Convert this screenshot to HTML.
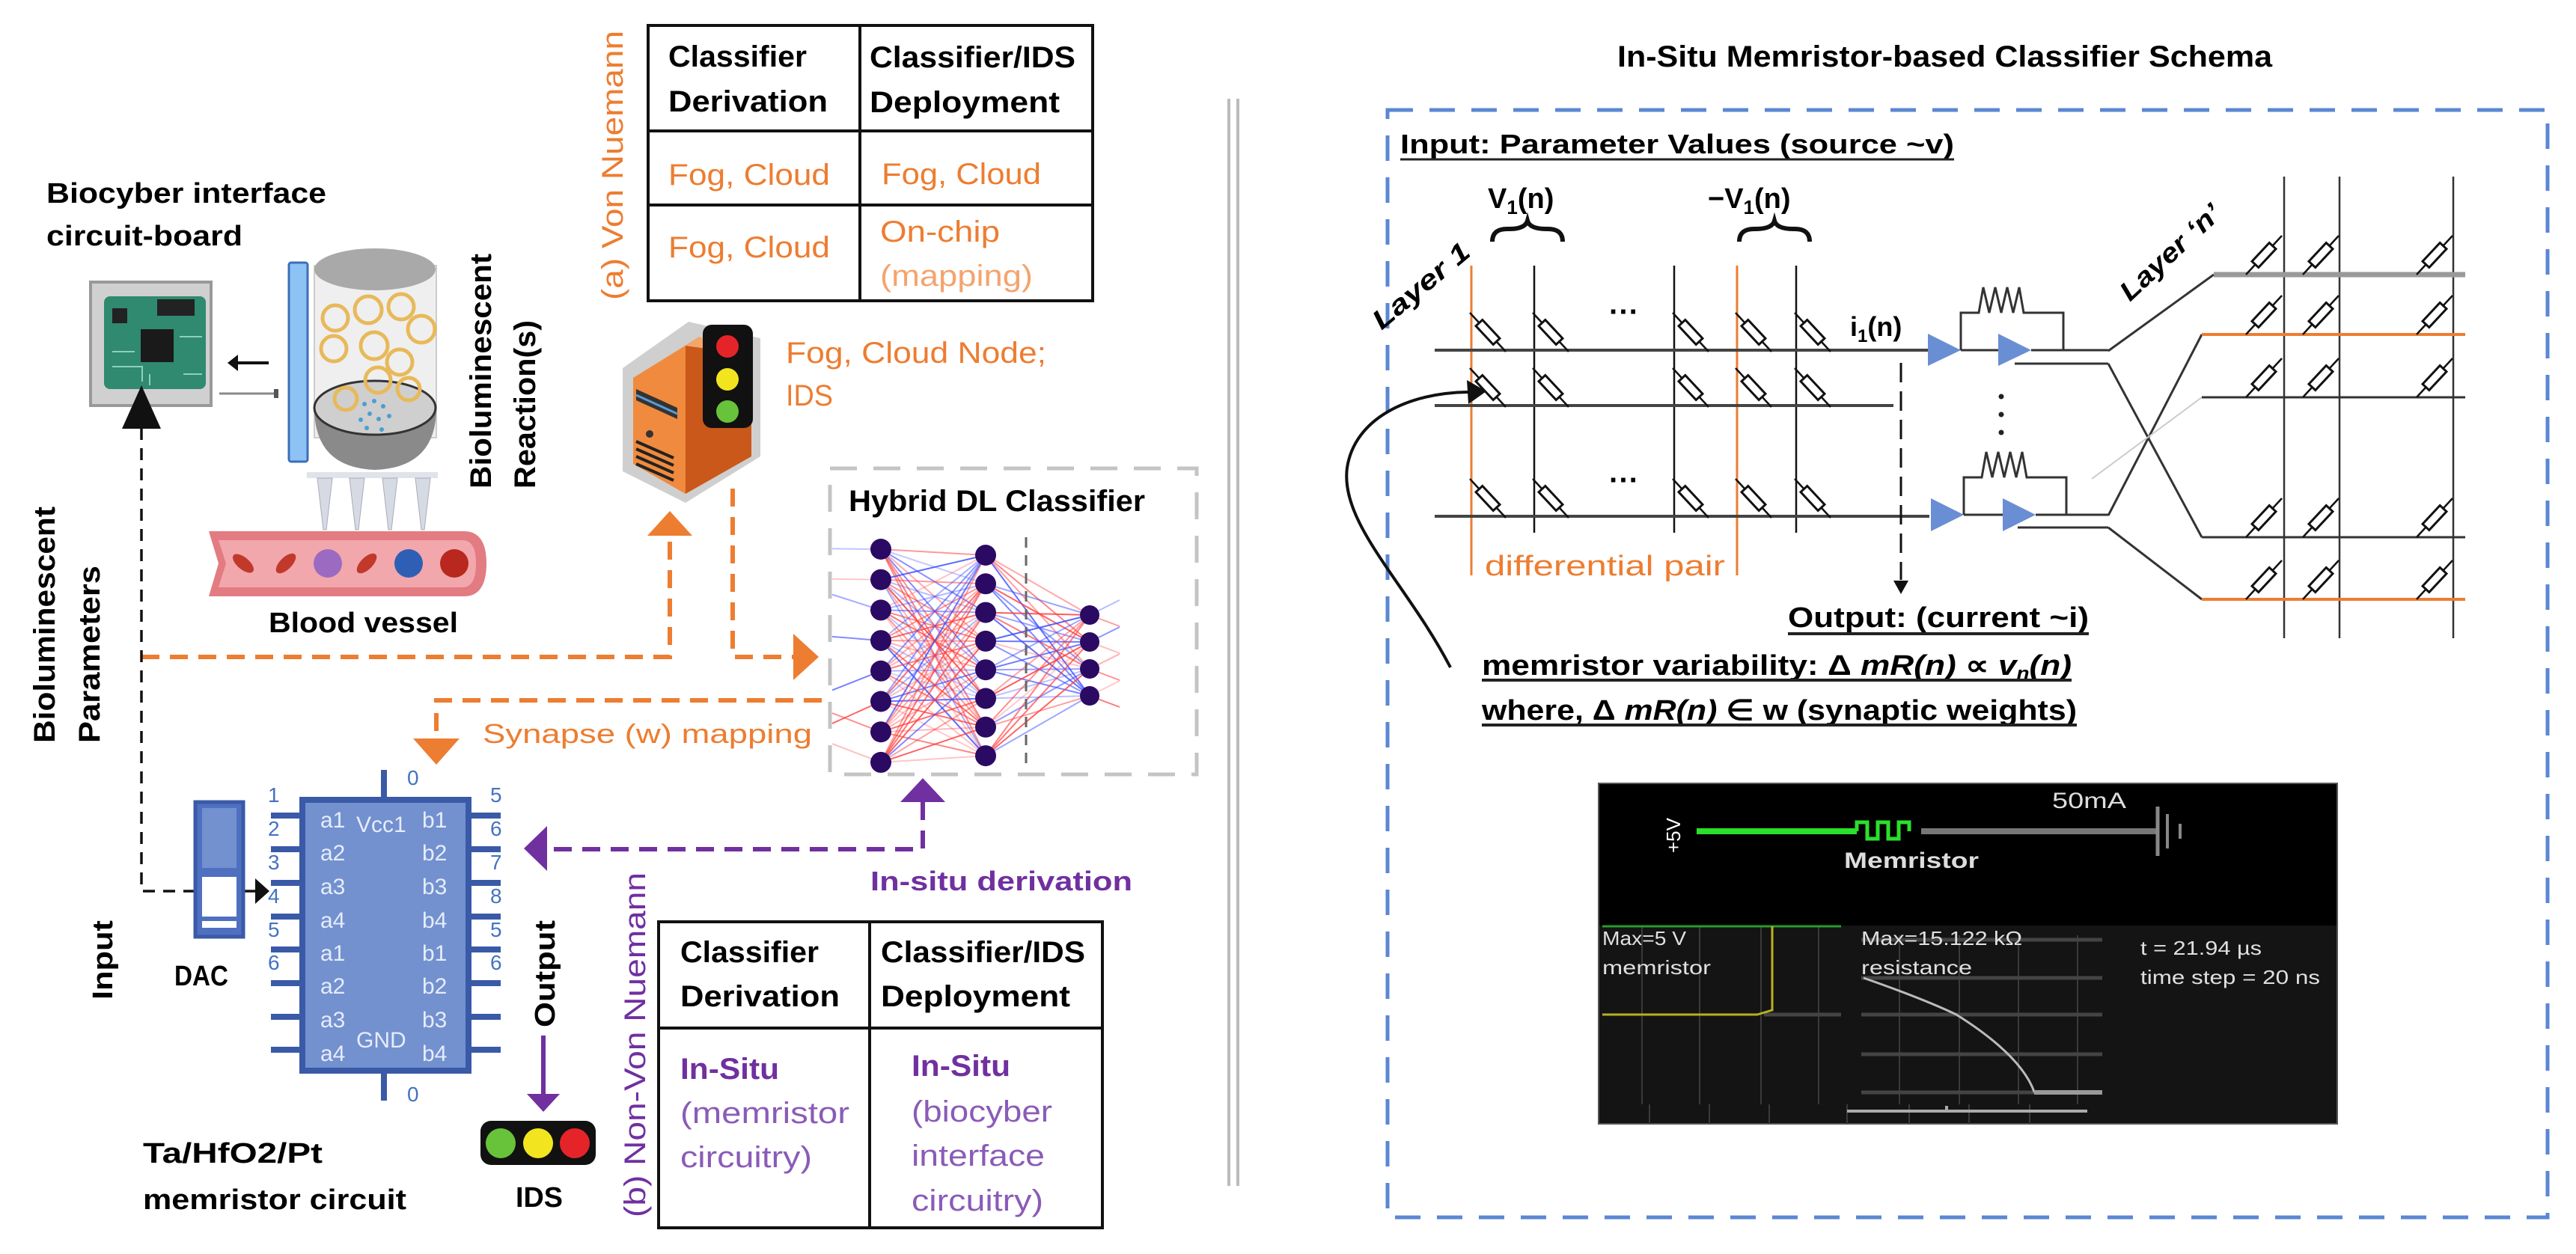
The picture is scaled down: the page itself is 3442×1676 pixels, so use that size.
<!DOCTYPE html>
<html><head><meta charset="utf-8"><style>
html,body{margin:0;padding:0;background:#fff}
svg{display:block}
text{font-family:"Liberation Sans",sans-serif}
</style></head><body>
<svg id="s" width="3442" height="1676" viewBox="0 0 3442 1676" xmlns="http://www.w3.org/2000/svg">
<defs>
<g id="ml"><line x1="-24" y1="-26" x2="24" y2="26" stroke="#111" stroke-width="2.5"/><rect x="-6" y="-17" width="12" height="34" fill="#fff" stroke="#111" stroke-width="3" transform="rotate(-43)"/></g>
<g id="mr"><line x1="24" y1="-26" x2="-24" y2="26" stroke="#111" stroke-width="2.5"/><rect x="-6" y="-17" width="12" height="34" fill="#fff" stroke="#111" stroke-width="3" transform="rotate(43)"/></g>
</defs>
<rect width="3442" height="1676" fill="#fff"/>

<!-- ===== LEFT PANEL ===== -->
<text x="62" y="271" font-size="38" font-weight="bold" textLength="374" lengthAdjust="spacingAndGlyphs">Biocyber interface</text>
<text x="62" y="328" font-size="38" font-weight="bold" textLength="262" lengthAdjust="spacingAndGlyphs">circuit-board</text>

<!-- circuit board -->
<rect x="121" y="377" width="161" height="165" fill="#d0d0d0" stroke="#999" stroke-width="4"/>
<rect x="139" y="396" width="136" height="124" rx="8" fill="#2f8a6f"/>
<rect x="210" y="400" width="50" height="22" fill="#222"/>
<rect x="150" y="412" width="20" height="20" fill="#222"/>
<rect x="188" y="440" width="44" height="44" fill="#1a1a1a"/>
<path d="M150 470 h30 M150 490 h40 v20 M240 450 h30 M245 500 h25 M200 500 v15" stroke="#8fd0b8" stroke-width="2" fill="none"/>
<!-- arrows -->
<line x1="315" y1="485" x2="359" y2="485" stroke="#111" stroke-width="4"/>
<polygon points="304,485 318,474 318,496" fill="#111"/>
<line x1="293" y1="526" x2="368" y2="526" stroke="#888" stroke-width="3"/>
<rect x="366" y="520" width="6" height="12" fill="#555"/>
<!-- blue bar -->
<rect x="386" y="351" width="25" height="266" rx="3" fill="#8ec2f5" stroke="#3b6fb8" stroke-width="3"/>
<!-- cylinder -->
<rect x="420" y="355" width="163" height="230" fill="#efefef" stroke="#ccc" stroke-width="2"/>
<ellipse cx="501" cy="360" rx="81" ry="28" fill="#a9a9a9"/>
<path d="M420 545 Q420 625 501 628 Q583 625 583 545 Z" fill="#8a8a8a"/>
<ellipse cx="501" cy="545" rx="81" ry="36" fill="#cfcfcf" stroke="#333" stroke-width="3"/>
<g fill="none" stroke="#e8b95a" stroke-width="5">
<circle cx="448" cy="425" r="17"/><circle cx="492" cy="414" r="18"/><circle cx="536" cy="410" r="17"/>
<circle cx="446" cy="466" r="17"/><circle cx="500" cy="462" r="18"/><circle cx="563" cy="440" r="18"/>
<circle cx="534" cy="484" r="17"/><circle cx="505" cy="508" r="17"/><circle cx="462" cy="533" r="15"/><circle cx="546" cy="520" r="15"/>
</g>
<g fill="#4a9fcf"><circle cx="487" cy="540" r="3"/><circle cx="500" cy="536" r="3"/><circle cx="512" cy="543" r="3"/><circle cx="494" cy="553" r="3"/><circle cx="506" cy="560" r="3"/><circle cx="520" cy="556" r="3"/><circle cx="482" cy="561" r="3"/><circle cx="490" cy="572" r="3"/><circle cx="510" cy="574" r="3"/></g>
<!-- probes -->
<rect x="410" y="631" width="175" height="8" fill="#dfe3ea"/>
<g fill="#d6dbe3" stroke="#aab" stroke-width="1">
<polygon points="424,639 444,639 436,708 432,708"/><polygon points="467,639 487,639 479,708 475,708"/>
<polygon points="511,639 531,639 523,708 519,708"/><polygon points="555,639 575,639 567,708 563,708"/>
</g>
<!-- blood vessel -->
<path d="M279 710 H620 Q650 710 650 753 Q650 797 620 797 H279 L292 753 Z" fill="#e27c82"/>
<path d="M292 722 H618 Q636 722 636 753 Q636 785 618 785 H292 L302 753 Z" fill="#f2a7ac"/>
<ellipse cx="325" cy="753" rx="17" ry="8" transform="rotate(40 325 753)" fill="#c0392b"/>
<ellipse cx="382" cy="753" rx="17" ry="8" transform="rotate(-45 382 753)" fill="#c0392b"/>
<circle cx="438" cy="753" r="19" fill="#9b6bc2"/>
<ellipse cx="490" cy="753" rx="17" ry="8" transform="rotate(-45 490 753)" fill="#c0392b"/>
<circle cx="546" cy="753" r="19" fill="#2f5fb5"/>
<circle cx="607" cy="753" r="19" fill="#b8281e"/>
<text x="359" y="845" font-size="38" font-weight="bold" textLength="253" lengthAdjust="spacingAndGlyphs">Blood vessel</text>

<text transform="translate(656,653) rotate(-90)" font-size="40" font-weight="bold" textLength="314" lengthAdjust="spacingAndGlyphs">Bioluminescent</text>
<text transform="translate(715,653) rotate(-90)" font-size="40" font-weight="bold" textLength="225" lengthAdjust="spacingAndGlyphs">Reaction(s)</text>

<text transform="translate(73,993) rotate(-90)" font-size="40" font-weight="bold" textLength="316" lengthAdjust="spacingAndGlyphs">Bioluminescent</text>
<text transform="translate(133,993) rotate(-90)" font-size="40" font-weight="bold" textLength="237" lengthAdjust="spacingAndGlyphs">Parameters</text>

<text transform="translate(832,401) rotate(-90)" font-size="40" fill="#ED7D31" textLength="360" lengthAdjust="spacingAndGlyphs">(a) Von Nuemann</text>

<!-- Table a -->
<g stroke="#111" stroke-width="4" fill="none">
<rect x="866" y="34" width="594" height="368"/>
<line x1="1149" y1="34" x2="1149" y2="402"/>
<line x1="866" y1="175" x2="1460" y2="175"/>
<line x1="866" y1="274" x2="1460" y2="274"/>
</g>
<g font-size="40" font-weight="bold">
<text x="893" y="89" textLength="185" lengthAdjust="spacingAndGlyphs">Classifier</text>
<text x="893" y="149" textLength="213" lengthAdjust="spacingAndGlyphs">Derivation</text>
<text x="1162" y="90" textLength="275" lengthAdjust="spacingAndGlyphs">Classifier/IDS</text>
<text x="1162" y="150" textLength="254" lengthAdjust="spacingAndGlyphs">Deployment</text>
</g>
<g font-size="40" fill="#ED7D31">
<text x="893" y="247" textLength="216" lengthAdjust="spacingAndGlyphs">Fog, Cloud</text>
<text x="893" y="344" textLength="216" lengthAdjust="spacingAndGlyphs">Fog, Cloud</text>
<text x="1178" y="246" textLength="213" lengthAdjust="spacingAndGlyphs">Fog, Cloud</text>
<text x="1176" y="323" textLength="160" lengthAdjust="spacingAndGlyphs">On-chip</text>
<text x="1176" y="382" textLength="204" lengthAdjust="spacingAndGlyphs" fill="#F4A46E">(mapping)</text>
</g>

<!-- server -->
<polygon points="832,492 920,430 1016,452 1016,610 916,672 832,630" fill="#cfcfcf"/>
<polygon points="846,505 916,462 916,660 846,620" fill="#F08A3E"/>
<polygon points="916,462 1004,474 1004,610 916,660" fill="#C9581A"/>
<polygon points="846,505 934,450 1004,474 916,462" fill="#f4a56a"/>
<g stroke="#222" stroke-width="4"><line x1="850" y1="620" x2="900" y2="642"/><line x1="850" y1="610" x2="900" y2="632"/><line x1="850" y1="600" x2="900" y2="622"/><line x1="850" y1="590" x2="900" y2="612"/></g>
<path d="M850 520 L905 545 L905 560 L850 535 Z" fill="#333"/>
<path d="M850 528 L905 553" stroke="#5a9ad6" stroke-width="3"/>
<circle cx="868" cy="580" r="5" fill="#333"/>
<rect x="939" y="434" width="67" height="138" rx="12" fill="#111"/>
<circle cx="972" cy="463" r="15" fill="#e5242a"/>
<circle cx="972" cy="507" r="15" fill="#f2e51f"/>
<circle cx="972" cy="550" r="15" fill="#68c23a"/>
<text x="1050" y="485" font-size="40" fill="#ED7D31" textLength="348" lengthAdjust="spacingAndGlyphs">Fog, Cloud Node;</text>
<text x="1050" y="542" font-size="40" fill="#ED7D31" textLength="63" lengthAdjust="spacingAndGlyphs">IDS</text>

<!-- orange dashed arrows -->
<g stroke="#ED7D31" stroke-width="6" fill="none" stroke-dasharray="24 14">
<path d="M189 878 H895 V715"/>
<path d="M979 653 V878 H1062"/>
<path d="M1098 936 H583 V988"/>
</g>
<g fill="#ED7D31">
<polygon points="895,683 865,716 925,716"/>
<polygon points="1094,878 1060,847 1060,909"/>
<polygon points="583,1022 552,987 614,987"/>
</g>
<text x="645" y="993" font-size="36" fill="#ED7D31" textLength="440" lengthAdjust="spacingAndGlyphs">Synapse (w) mapping</text>

<!-- black dashed input arrow -->
<g stroke="#111" stroke-width="3.5" fill="none" stroke-dasharray="16 11">
<path d="M189 572 V1191 H343"/>
</g>
<polygon points="189,515 163,573 215,573" fill="#111"/>
<polygon points="360,1191 341,1174 341,1208" fill="#111"/>

<!-- Hybrid DL classifier -->
<rect x="1109" y="626" width="490" height="409" fill="none" stroke="#c4c4c4" stroke-width="5" stroke-dasharray="36 22"/>
<text x="1134" y="683" font-size="40" font-weight="bold" textLength="396" lengthAdjust="spacingAndGlyphs">Hybrid DL Classifier</text>
<g id="nnl" stroke-width="2"></g>
<line x1="1371" y1="718" x2="1371" y2="1022" stroke="#666" stroke-width="3" stroke-dasharray="14 10"/>
<g id="nnn" fill="#2b0a63"></g>

<!-- purple -->
<g stroke="#7030A0" stroke-width="6" fill="none" stroke-dasharray="24 14">
<path d="M1233 1072 V1135 H732"/>
</g>
<polygon points="1233,1040 1203,1072 1263,1072" fill="#7030A0"/>
<polygon points="700,1134 731,1104 731,1164" fill="#7030A0"/>
<text x="1163" y="1190" font-size="36" font-weight="bold" fill="#7030A0" textLength="350" lengthAdjust="spacingAndGlyphs">In-situ derivation</text>

<!-- chip -->
<g stroke="#3a5aa8" stroke-width="8">
<line x1="513" y1="1029" x2="513" y2="1070"/><line x1="513" y1="1430" x2="513" y2="1471"/>
<g id="pinsL">
<line x1="362" y1="1090" x2="404" y2="1090"/><line x1="362" y1="1135" x2="404" y2="1135"/>
<line x1="362" y1="1180" x2="404" y2="1180"/><line x1="362" y1="1225" x2="404" y2="1225"/>
<line x1="362" y1="1269" x2="404" y2="1269"/><line x1="362" y1="1314" x2="404" y2="1314"/>
<line x1="362" y1="1359" x2="404" y2="1359"/><line x1="362" y1="1403" x2="404" y2="1403"/>
</g>
<use href="#pinsL" x="265"/>
</g>
<rect x="404" y="1069" width="222" height="362" fill="#7391cf" stroke="#3a5aa8" stroke-width="8"/>
<g font-size="30" fill="#e6ecfa">
<text x="428" y="1106">a1</text><text x="428" y="1150">a2</text><text x="428" y="1195">a3</text><text x="428" y="1240">a4</text>
<text x="428" y="1284">a1</text><text x="428" y="1328">a2</text><text x="428" y="1373">a3</text><text x="428" y="1418">a4</text>
<text x="564" y="1106">b1</text><text x="564" y="1150">b2</text><text x="564" y="1195">b3</text><text x="564" y="1240">b4</text>
<text x="564" y="1284">b1</text><text x="564" y="1328">b2</text><text x="564" y="1373">b3</text><text x="564" y="1418">b4</text>
<text x="476" y="1112">Vcc1</text><text x="476" y="1400">GND</text>
</g>
<g font-size="28" fill="#4472C4">
<text x="544" y="1049">0</text><text x="544" y="1472">0</text>
<text x="358" y="1072">1</text><text x="358" y="1117">2</text><text x="358" y="1162">3</text><text x="358" y="1207">4</text><text x="358" y="1252">5</text><text x="358" y="1296">6</text>
<text x="655" y="1072">5</text><text x="655" y="1117">6</text><text x="655" y="1162">7</text><text x="655" y="1207">8</text><text x="655" y="1252">5</text><text x="655" y="1296">6</text>
</g>
<!-- DAC -->
<rect x="261" y="1072" width="64" height="180" fill="#4f70c0" stroke="#3a5aa8" stroke-width="5"/>
<rect x="270" y="1080" width="46" height="80" fill="#7391cf"/>
<rect x="270" y="1172" width="46" height="53" fill="#fff"/>
<rect x="270" y="1231" width="46" height="9" fill="#fff"/>
<text x="233" y="1317" font-size="38" font-weight="bold" textLength="72" lengthAdjust="spacingAndGlyphs">DAC</text>
<text transform="translate(150,1336) rotate(-90)" font-size="38" font-weight="bold" textLength="106" lengthAdjust="spacingAndGlyphs">Input</text>
<text transform="translate(741,1373) rotate(-90)" font-size="38" font-weight="bold" textLength="143" lengthAdjust="spacingAndGlyphs">Output</text>
<line x1="726" y1="1384" x2="726" y2="1464" stroke="#7030A0" stroke-width="6"/>
<polygon points="726,1486 704,1462 748,1462" fill="#7030A0"/>
<rect x="642" y="1498" width="154" height="59" rx="14" fill="#111"/>
<circle cx="669" cy="1528" r="20" fill="#68c23a"/><circle cx="719" cy="1528" r="20" fill="#f2e51f"/><circle cx="768" cy="1528" r="20" fill="#e5242a"/>
<text x="689" y="1613" font-size="38" font-weight="bold" textLength="63" lengthAdjust="spacingAndGlyphs">IDS</text>
<text x="191" y="1554" font-size="38" font-weight="bold" textLength="240" lengthAdjust="spacingAndGlyphs">Ta/HfO2/Pt</text>
<text x="191" y="1616" font-size="38" font-weight="bold" textLength="352" lengthAdjust="spacingAndGlyphs">memristor circuit</text>

<text transform="translate(862,1627) rotate(-90)" font-size="40" fill="#7030A0" textLength="461" lengthAdjust="spacingAndGlyphs">(b) Non-Von Nuemann</text>

<!-- Table b -->
<g stroke="#111" stroke-width="4" fill="none">
<rect x="880" y="1232" width="593" height="409"/>
<line x1="1162" y1="1232" x2="1162" y2="1641"/>
<line x1="880" y1="1374" x2="1473" y2="1374"/>
</g>
<g font-size="40" font-weight="bold">
<text x="909" y="1286" textLength="185" lengthAdjust="spacingAndGlyphs">Classifier</text>
<text x="909" y="1345" textLength="213" lengthAdjust="spacingAndGlyphs">Derivation</text>
<text x="1177" y="1286" textLength="273" lengthAdjust="spacingAndGlyphs">Classifier/IDS</text>
<text x="1177" y="1345" textLength="253" lengthAdjust="spacingAndGlyphs">Deployment</text>
</g>
<g font-size="40" fill="#7030A0">
<text x="909" y="1442" font-weight="bold" textLength="132" lengthAdjust="spacingAndGlyphs">In-Situ</text>
<text x="909" y="1501" fill="#8a5bb8" textLength="226" lengthAdjust="spacingAndGlyphs">(memristor</text>
<text x="909" y="1560" fill="#8a5bb8" textLength="176" lengthAdjust="spacingAndGlyphs">circuitry)</text>
<text x="1218" y="1438" font-weight="bold" textLength="132" lengthAdjust="spacingAndGlyphs">In-Situ</text>
<text x="1218" y="1499" fill="#8a5bb8" textLength="188" lengthAdjust="spacingAndGlyphs">(biocyber</text>
<text x="1218" y="1558" fill="#8a5bb8" textLength="178" lengthAdjust="spacingAndGlyphs">interface</text>
<text x="1218" y="1618" fill="#8a5bb8" textLength="176" lengthAdjust="spacingAndGlyphs">circuitry)</text>
</g>

<!-- divider -->
<line x1="1642" y1="132" x2="1642" y2="1585" stroke="#bbb" stroke-width="4"/>
<line x1="1654" y1="132" x2="1654" y2="1585" stroke="#bbb" stroke-width="4"/>

<!-- ===== RIGHT PANEL ===== -->
<text x="2161" y="89" font-size="40" font-weight="bold" textLength="875" lengthAdjust="spacingAndGlyphs">In-Situ Memristor-based Classifier Schema</text>
<rect x="1854" y="147" width="1550" height="1480" fill="none" stroke="#5b87d2" stroke-width="5" stroke-dasharray="34 22"/>
<text x="1871" y="205" font-size="36" font-weight="bold" textLength="740" lengthAdjust="spacingAndGlyphs">Input: Parameter Values (source ~v)</text>
<line x1="1871" y1="213" x2="2611" y2="213" stroke="#222" stroke-width="3"/>
<text x="1988" y="278" font-size="38" font-weight="bold">V<tspan font-size="26" dy="8">1</tspan><tspan dy="-8">(n)</tspan></text>
<text x="2282" y="278" font-size="38" font-weight="bold">−V<tspan font-size="26" dy="8">1</tspan><tspan dy="-8">(n)</tspan></text>
<path d="M1994 323 Q1994 305 2016 306 Q2038 306 2041 295 Q2044 306 2066 306 Q2088 305 2088 323" fill="none" stroke="#111" stroke-width="6"/>
<path d="M2324 323 Q2324 305 2346 306 Q2368 306 2371 295 Q2374 306 2396 306 Q2418 305 2418 323" fill="none" stroke="#111" stroke-width="6"/>
<text transform="translate(1846,442) rotate(-40)" font-size="36" font-weight="bold" font-style="italic" textLength="158" lengthAdjust="spacingAndGlyphs">Layer 1</text>
<text transform="translate(2846,404) rotate(-43)" font-size="36" font-weight="bold" font-style="italic" textLength="170" lengthAdjust="spacingAndGlyphs">Layer ‘n’</text>

<!-- left crossbar -->
<g stroke="#111" stroke-width="2.5">
<line x1="2050" y1="355" x2="2050" y2="712"/><line x1="2237" y1="355" x2="2237" y2="712"/><line x1="2400" y1="355" x2="2400" y2="712"/>
</g>
<g stroke="#ED7D31" stroke-width="3"><line x1="1966" y1="355" x2="1966" y2="769"/><line x1="2321" y1="355" x2="2321" y2="769"/></g>
<g stroke="#444" stroke-width="4">
<line x1="1917" y1="468" x2="2576" y2="468"/><line x1="1917" y1="542" x2="2530" y2="542"/><line x1="1917" y1="690" x2="2578" y2="690"/>
</g>
<g>
<use href="#ml" x="1988" y="444"/><use href="#ml" x="2072" y="444"/><use href="#ml" x="2259" y="444"/><use href="#ml" x="2343" y="444"/><use href="#ml" x="2422" y="444"/>
<use href="#ml" x="1988" y="518"/><use href="#ml" x="2072" y="518"/><use href="#ml" x="2259" y="518"/><use href="#ml" x="2343" y="518"/><use href="#ml" x="2422" y="518"/>
<use href="#ml" x="1988" y="666"/><use href="#ml" x="2072" y="666"/><use href="#ml" x="2259" y="666"/><use href="#ml" x="2343" y="666"/><use href="#ml" x="2422" y="666"/>
</g>
<text x="2150" y="430" font-size="40" font-weight="bold">···</text>
<text x="2150" y="655" font-size="40" font-weight="bold">···</text>
<text x="2472" y="449" font-size="36" font-weight="bold">i<tspan font-size="24" dy="8">1</tspan><tspan dy="-8">(n)</tspan></text>
<line x1="2540" y1="485" x2="2540" y2="775" stroke="#111" stroke-width="3" stroke-dasharray="26 12"/>
<polygon points="2540,794 2530,776 2550,776" fill="#111"/>
<text x="1984" y="769" font-size="38" fill="#ED7D31" textLength="321" lengthAdjust="spacingAndGlyphs">differential pair</text>
<!-- amps -->
<g fill="#6a8ed3"><polygon points="2576,446 2576,489 2620,468"/><polygon points="2670,446 2670,489 2714,468"/>
<polygon points="2580,666 2580,710 2624,688"/><polygon points="2676,666 2676,710 2720,688"/></g>
<g stroke="#333" stroke-width="3" fill="none">
<path d="M2620 468 H2670 M2714 468 H2817"/>
<path d="M2624 688 H2676 M2720 688 H2817"/>
<path d="M2620 468 V418 H2644 l6 -34 l8 34 l8 -34 l8 34 l8 -34 l8 34 l8 -34 l6 34 H2757 V468"/>
<path d="M2624 688 V638 H2648 l6 -34 l8 34 l8 -34 l8 34 l8 -34 l8 34 l8 -34 l6 34 H2761 V688"/>
<path d="M2692 486 H2817 M2696 705 H2817"/>
<line x1="2817" y1="469" x2="2958" y2="367"/>
<line x1="2817" y1="486" x2="2942" y2="718"/>
<line x1="2817" y1="689" x2="2942" y2="447"/>
<line x1="2817" y1="705" x2="2942" y2="801"/>
</g>
<line x1="2795" y1="640" x2="2942" y2="531" stroke="#ccc" stroke-width="2"/>
<g fill="#222"><circle cx="2674" cy="530" r="3.5"/><circle cx="2674" cy="554" r="3.5"/><circle cx="2674" cy="578" r="3.5"/></g>
<!-- right grid -->
<g stroke="#333" stroke-width="2.5"><line x1="3052" y1="236" x2="3052" y2="853"/><line x1="3126" y1="236" x2="3126" y2="853"/><line x1="3278" y1="236" x2="3278" y2="853"/></g>
<line x1="2958" y1="367" x2="3294" y2="367" stroke="#999" stroke-width="7"/>
<line x1="2942" y1="447" x2="3294" y2="447" stroke="#ED7D31" stroke-width="4"/>
<line x1="2942" y1="531" x2="3294" y2="531" stroke="#333" stroke-width="3"/>
<line x1="2942" y1="718" x2="3294" y2="718" stroke="#333" stroke-width="3"/>
<line x1="2942" y1="801" x2="3294" y2="801" stroke="#ED7D31" stroke-width="4"/>
<g>
<use href="#mr" x="3025" y="341"/><use href="#mr" x="3101" y="341"/><use href="#mr" x="3253" y="341"/>
<use href="#mr" x="3025" y="421"/><use href="#mr" x="3101" y="421"/><use href="#mr" x="3253" y="421"/>
<use href="#mr" x="3025" y="505"/><use href="#mr" x="3101" y="505"/><use href="#mr" x="3253" y="505"/>
<use href="#mr" x="3025" y="692"/><use href="#mr" x="3101" y="692"/><use href="#mr" x="3253" y="692"/>
<use href="#mr" x="3025" y="775"/><use href="#mr" x="3101" y="775"/><use href="#mr" x="3253" y="775"/>
</g>
<!-- curved arrow -->
<path d="M1938 892 C1880 780 1790 700 1800 625 C1810 560 1880 525 1962 524" fill="none" stroke="#111" stroke-width="4"/>
<polygon points="1986,523 1960,508 1962,540" fill="#111"/>
<!-- texts -->
<text x="2389" y="838" font-size="38" font-weight="bold" textLength="402" lengthAdjust="spacingAndGlyphs">Output: (current ~i)</text>
<line x1="2389" y1="847" x2="2791" y2="847" stroke="#222" stroke-width="4"/>
<text x="1980" y="902" font-size="38" font-weight="bold" textLength="788" lengthAdjust="spacingAndGlyphs">memristor variability: Δ <tspan font-style="italic">mR(n)</tspan>  ∝ <tspan font-style="italic">v<tspan font-size="24" dy="6">n</tspan><tspan dy="-6">(n)</tspan></tspan></text>
<line x1="1980" y1="909" x2="2768" y2="909" stroke="#222" stroke-width="4"/>
<text x="1980" y="962" font-size="38" font-weight="bold" textLength="795" lengthAdjust="spacingAndGlyphs">where, Δ <tspan font-style="italic">mR(n)</tspan> ∈ w (synaptic weights)</text>
<line x1="1980" y1="969" x2="2775" y2="969" stroke="#222" stroke-width="4"/>

<!-- oscilloscope -->
<rect x="2136" y="1047" width="987" height="455" fill="#000" stroke="#555" stroke-width="2"/>
<rect x="2137" y="1237" width="985" height="264" fill="#141414"/>
<text transform="translate(2245,1140) rotate(-90)" font-size="26" fill="#fff">+5V</text>
<line x1="2267" y1="1111" x2="2481" y2="1111" stroke="#2be02b" stroke-width="8"/>
<path d="M2481 1111 v-12 h14 v22 h14 v-22 h14 v22 h14 v-22 h14 v12" fill="none" stroke="#2be02b" stroke-width="5"/>
<line x1="2567" y1="1111" x2="2883" y2="1111" stroke="#777" stroke-width="8"/>
<line x1="2883" y1="1078" x2="2883" y2="1144" stroke="#888" stroke-width="5"/>
<line x1="2896" y1="1088" x2="2896" y2="1134" stroke="#888" stroke-width="4"/>
<line x1="2913" y1="1101" x2="2913" y2="1121" stroke="#888" stroke-width="4"/>
<text x="2742" y="1080" font-size="30" fill="#ddd" textLength="99" lengthAdjust="spacingAndGlyphs">50mA</text>
<text x="2464" y="1160" font-size="30" font-weight="bold" fill="#ddd" textLength="180" lengthAdjust="spacingAndGlyphs">Memristor</text>
<g stroke="#3a3a3a" stroke-width="2">
<line x1="2194" y1="1237" x2="2194" y2="1476"/><line x1="2271" y1="1237" x2="2271" y2="1476"/><line x1="2353" y1="1237" x2="2353" y2="1476"/><line x1="2430" y1="1237" x2="2430" y2="1476"/>
<line x1="2538" y1="1250" x2="2538" y2="1476"/><line x1="2618" y1="1250" x2="2618" y2="1476"/><line x1="2697" y1="1250" x2="2697" y2="1476"/><line x1="2776" y1="1250" x2="2776" y2="1476"/>
<line x1="2204" y1="1476" x2="2204" y2="1502"/><line x1="2284" y1="1476" x2="2284" y2="1502"/><line x1="2364" y1="1476" x2="2364" y2="1502"/><line x1="2468" y1="1476" x2="2468" y2="1502"/><line x1="2551" y1="1476" x2="2551" y2="1502"/><line x1="2631" y1="1476" x2="2631" y2="1502"/><line x1="2712" y1="1476" x2="2712" y2="1502"/>
</g>
<g stroke="#444" stroke-width="5">
<line x1="2487" y1="1256" x2="2809" y2="1256"/><line x1="2487" y1="1307" x2="2809" y2="1307"/><line x1="2487" y1="1356" x2="2809" y2="1356"/><line x1="2487" y1="1409" x2="2809" y2="1409"/><line x1="2487" y1="1460" x2="2809" y2="1460"/>
<line x1="2357" y1="1356" x2="2460" y2="1356"/>
</g>
<line x1="2141" y1="1238" x2="2460" y2="1238" stroke="#2a9a2a" stroke-width="3"/>
<path d="M2141 1356 H2348 L2368 1350 V1238" fill="none" stroke="#b8b020" stroke-width="3"/>
<path d="M2490 1307 Q2570 1335 2614 1356 Q2700 1410 2718 1459 H2809" fill="none" stroke="#bbb" stroke-width="3"/>
<line x1="2718" y1="1460" x2="2809" y2="1460" stroke="#999" stroke-width="6"/>
<path d="M2468 1485 H2601 V1478 V1485 H2789" fill="none" stroke="#aaa" stroke-width="4"/>
<g font-size="26" fill="#e0e0e0">
<text x="2141" y="1263" textLength="112" lengthAdjust="spacingAndGlyphs">Max=5 V</text>
<text x="2141" y="1302" textLength="145" lengthAdjust="spacingAndGlyphs">memristor</text>
<text x="2487" y="1263" textLength="215" lengthAdjust="spacingAndGlyphs">Max=15.122 kΩ</text>
<text x="2487" y="1302" textLength="148" lengthAdjust="spacingAndGlyphs">resistance</text>
<text x="2860" y="1276" textLength="162" lengthAdjust="spacingAndGlyphs">t = 21.94 µs</text>
<text x="2860" y="1315" textLength="240" lengthAdjust="spacingAndGlyphs">time step = 20 ns</text>
</g>
</svg>
<script>
(function(){
var NS="http://www.w3.org/2000/svg";
var L=document.getElementById("nnl"),N=document.getElementById("nnn");
var c1=[],c2=[],c3=[];
for(var i=0;i<8;i++){c1.push([1177,734+i*40.7]);c2.push([1317,742+i*38.3]);}
for(var i=0;i<4;i++){c3.push([1456,822+i*36]);}
var seed=7;function r(){seed=(seed*9301+49297)%233280;return seed/233280;}
function ln(a,b){var l=document.createElementNS(NS,"line");l.setAttribute("x1",a[0]);l.setAttribute("y1",a[1]);l.setAttribute("x2",b[0]);l.setAttribute("y2",b[1]);
l.setAttribute("stroke",r()<0.5?"#ff3b3b":"#3b4bff");l.setAttribute("stroke-opacity",(0.25+r()*0.6).toFixed(2));L.appendChild(l);}
for(var i=0;i<8;i++){ln([1112,c1[i][1]+(r()*60-30)],c1[i]);for(var j=0;j<8;j++)ln(c1[i],c2[j]);}
for(var i=0;i<8;i++)for(var j=0;j<4;j++)ln(c2[i],c3[j]);
for(var j=0;j<4;j++){ln(c3[j],[1496,c3[j][1]-20]);ln(c3[j],[1496,c3[j][1]+15]);}
function nd(p,rr){var c=document.createElementNS(NS,"circle");c.setAttribute("cx",p[0]);c.setAttribute("cy",p[1]);c.setAttribute("r",rr);N.appendChild(c);}
c1.forEach(function(p){nd(p,14)});c2.forEach(function(p){nd(p,14)});c3.forEach(function(p){nd(p,13)});
})();
</script>
</body></html>
